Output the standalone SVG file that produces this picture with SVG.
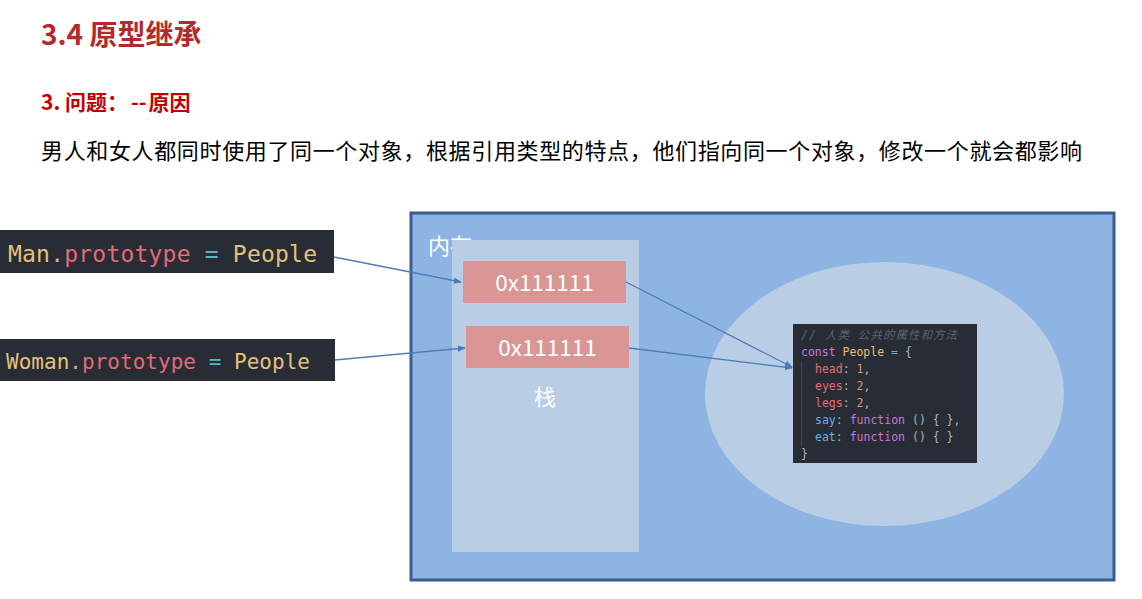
<svg xmlns="http://www.w3.org/2000/svg" width="1142" height="599" viewBox="0 0 1142 599">
<defs>
<style>
.cjk{font-family:"Noto Sans CJK SC","Noto Sans",sans-serif}
.mono{font-family:"DejaVu Sans Mono","Liberation Mono","Noto Sans CJK SC",monospace}
.wh{fill:#ffffff}
.y{fill:#e5c07b}.r{fill:#e06c75}.g{fill:#abb2bf}.c{fill:#56b6c2}.p{fill:#c678dd}.o{fill:#d19a66}.b{fill:#61afef}.cm{fill:#5c6370;font-style:italic}
.conn{stroke:#4a7ebb;stroke-width:1.3;fill:none;marker-end:url(#ah)}
.addr{fill:#d99694}
</style>
<marker id="ah" viewBox="0 0 10 10" refX="9" refY="5" markerWidth="8" markerHeight="8" orient="auto" markerUnits="userSpaceOnUse">
<path d="M0,1 L10,5 L0,9 z" fill="#4a7ebb"/>
</marker>
</defs>
<rect width="1142" height="599" fill="#ffffff"/>
<g id="title">
<text x="41" y="45" class="cjk" font-size="28" font-weight="600" fill="#b22b2b">3.4 原型继承</text>
<text x="41" y="110" class="cjk" font-size="21" font-weight="700" fill="#c00000"><tspan>3. </tspan><tspan>问题：</tspan><tspan dx="3">--</tspan><tspan dx="2">原因</tspan></text>
<text x="41" y="159" class="cjk" font-size="22" fill="#000000" textLength="1041" lengthAdjust="spacing">男人和女人都同时使用了同一个对象，根据引用类型的特点，他们指向同一个对象，修改一个就会都影响</text>
</g>
<g id="memory">
<rect x="411" y="213" width="703" height="367" fill="#8eb4e3" stroke="#3a5d90" stroke-width="3"/>
<text x="428" y="254" class="cjk wh" font-size="22">内存</text>
</g>
<g id="stack">
<rect x="452" y="240" width="187" height="312" fill="#b9cde5"/>
<text x="545" y="405" class="cjk wh" font-size="22" text-anchor="middle">栈</text>
</g>
<g id="heap">
<ellipse cx="884.5" cy="394" rx="179.5" ry="132" fill="#b9cde5"/>
</g>
<g id="addr1">
<rect x="463" y="261" width="163" height="42" class="addr"/>
<text x="544.5" y="291" class="cjk wh" font-size="22.5" text-anchor="middle">0x111111</text>
</g>
<g id="addr2">
<rect x="466" y="326" width="163" height="42" class="addr"/>
<text x="547.5" y="356" class="cjk wh" font-size="22.5" text-anchor="middle">0x111111</text>
</g>
<g id="man">
<rect x="0" y="230" width="334" height="43" fill="#282c34"/>
<text x="8" y="262" class="mono" font-size="23" textLength="309" lengthAdjust="spacing"><tspan class="y">Man</tspan><tspan class="g">.</tspan><tspan class="r">prototype</tspan><tspan class="c"> = </tspan><tspan class="y">People</tspan></text>
</g>
<g id="woman">
<rect x="0" y="339" width="335" height="42" fill="#282c34"/>
<text x="6" y="369" class="mono" font-size="21" textLength="304" lengthAdjust="spacing"><tspan class="y">Woman</tspan><tspan class="g">.</tspan><tspan class="r">prototype</tspan><tspan class="c"> = </tspan><tspan class="y">People</tspan></text>
</g>
<g id="people">
<rect x="793" y="324" width="184" height="139" fill="#282c34"/>
<line x1="801.5" y1="362" x2="801.5" y2="446" stroke="#3e4451" stroke-width="1"/>
<g class="mono" font-size="11.5">
<text x="801" y="339" class="cm" textLength="156" lengthAdjust="spacing">// 人类 公共的属性和方法</text>
<text x="801" y="356"><tspan class="p">const</tspan><tspan class="y"> People</tspan><tspan class="c"> = </tspan><tspan class="g">{</tspan></text>
<text x="815" y="373"><tspan class="r">head</tspan><tspan class="g">: </tspan><tspan class="o">1</tspan><tspan class="g">,</tspan></text>
<text x="815" y="390"><tspan class="r">eyes</tspan><tspan class="g">: </tspan><tspan class="o">2</tspan><tspan class="g">,</tspan></text>
<text x="815" y="407"><tspan class="r">legs</tspan><tspan class="g">: </tspan><tspan class="o">2</tspan><tspan class="g">,</tspan></text>
<text x="815" y="424"><tspan class="b">say</tspan><tspan class="g">: </tspan><tspan class="p">function</tspan><tspan class="g"> () { },</tspan></text>
<text x="815" y="441"><tspan class="b">eat</tspan><tspan class="g">: </tspan><tspan class="p">function</tspan><tspan class="g"> () { }</tspan></text>
<text x="801" y="458" class="g">}</text>
</g>
</g>
<g id="connectors">
<line x1="334" y1="257" x2="461" y2="282" class="conn"/>
<line x1="335" y1="360" x2="465" y2="348" class="conn"/>
<line x1="626" y1="282" x2="792" y2="367" class="conn"/>
<line x1="629" y1="348" x2="792" y2="368" class="conn"/>
</g>
</svg>
